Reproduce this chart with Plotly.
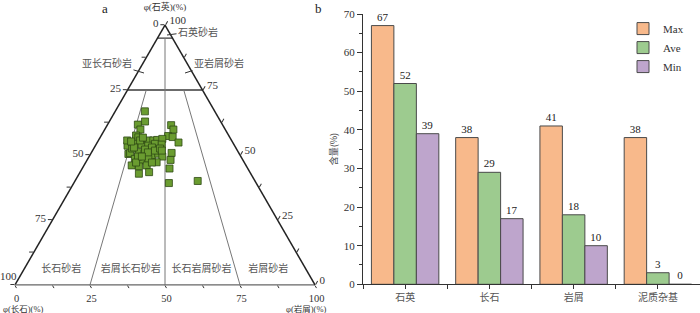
import plotly.graph_objects as go

# ---------------- Panel a: Q-F-R ternary data (%) ----------------
quartz = [66.8, 62.9, 61.7, 59.8, 61.5, 59.8, 57.3, 56.9, 54.8, 50.8, 48.1, 44.8, 39.2, 40.0,
          57.5, 56.8, 53.6, 50.4, 54.3, 54.0, 55.6, 55.6, 55.8, 56.2, 53.6, 54.3, 54.0, 50.7,
          51.1, 50.5, 49.8, 50.5, 49.4, 48.5, 47.9, 48.5, 47.2, 46.0, 45.6, 46.0, 42.8, 43.4,
          52.5, 52.1, 52.9, 55.6, 52.9, 51.7, 51.0, 49.4, 47.1, 52.5, 55.6, 56.7, 55.2, 51.7,
          47.1, 49.4]
feldspar = [23.3, 25.2, 28.2, 28.3, 17.2, 17.3, 20.3, 19.0, 18.1, 22.4, 24.1, 26.1, 29.1, 19.1,
            30.9, 30.5, 35.7, 37.0, 32.6, 30.8, 27.7, 26.1, 24.7, 22.8, 28.8, 26.2, 24.1, 36.3,
            33.3, 31.6, 29.5, 27.0, 26.2, 35.8, 33.8, 31.3, 29.2, 38.1, 35.9, 33.1, 37.3, 33.6,
            34.7, 30.6, 27.9, 30.5, 33.9, 27.5, 30.2, 34.3, 30.8, 25.4, 34.8, 29.0, 33.7, 25.2,
            36.1, 33.0]
lithic = [9.9, 11.9, 10.1, 11.9, 21.3, 22.9, 22.4, 24.1, 27.1, 26.8, 27.8, 29.1, 31.7, 40.9,
          11.6, 12.7, 10.7, 12.6, 13.1, 15.2, 16.7, 18.3, 19.5, 21.0, 17.6, 19.5, 21.9, 13.0,
          15.6, 17.9, 20.7, 22.5, 24.4, 15.7, 18.3, 20.2, 23.6, 15.9, 18.5, 20.9, 19.9, 23.0,
          12.8, 17.3, 19.2, 13.9, 13.2, 20.8, 18.8, 16.3, 22.1, 22.1, 9.6, 14.3, 11.1, 23.1,
          16.8, 17.6]

# classification boundaries
quartz_cuts = [95, 75]                    # horizontal Q lines
split_feldspar_share = [0.75, 0.5, 0.25]  # F/(F+R) of the fan lines
split_top_quartz = [75, 95, 75]           # Q where each fan line starts

ternary_ticks = [0, 12.5, 25, 37.5, 50, 62.5, 75, 87.5, 100]

bottom_zone_names = ["长石砂岩", "岩屑长石砂岩", "长石岩屑砂岩", "岩屑砂岩"]
upper_zone_names = ["石英砂岩", "亚长石砂岩", "亚岩屑砂岩"]

# ---------------- Panel b: bar data ----------------
components = ["石英", "长石", "岩屑", "泥质杂基"]
max_vals = [67, 38, 41, 38]
ave_vals = [52, 29, 18, 3]
min_vals = [39, 17, 10, 0]

SERIF = "Liberation Serif, Noto Sans CJK SC"
CJK = "Noto Sans CJK SC"
W, H = 700, 313

fig = go.Figure()

line_dark = dict(color="#3a3a3a", width=1.4)
line_gray = dict(color="#777777", width=1.0)

# horizontal boundary lines
for q in quartz_cuts:
    fig.add_trace(go.Scatterternary(
        a=[q, q], b=[100 - q, 0], c=[0, 100 - q], mode="lines",
        line=line_dark, showlegend=False, hoverinfo="skip", subplot="ternary"))
# fan lines
for share, qtop in zip(split_feldspar_share, split_top_quartz):
    rest = 100 - qtop
    fig.add_trace(go.Scatterternary(
        a=[qtop, 0], b=[rest * share, 100 * share], c=[rest * (1 - share), 100 * (1 - share)],
        mode="lines", line=line_gray, showlegend=False, hoverinfo="skip", subplot="ternary"))

# bottom zone labels
bottom_r = [12.4, 35.6, 59.2, 81.4]
fig.add_trace(go.Scatterternary(
    a=[6] * 4, b=[94 - r for r in bottom_r], c=bottom_r, mode="text", text=bottom_zone_names,
    textposition="middle center", textfont=dict(family=CJK, size=10, color="#555555"),
    showlegend=False, hoverinfo="skip", subplot="ternary"))

# samples
fig.add_trace(go.Scatterternary(
    a=quartz, b=feldspar, c=lithic, mode="markers",
    marker=dict(symbol="square", size=7, color="#6a9c30", line=dict(color="#2f4a14", width=0.8)),
    showlegend=False, subplot="ternary"))

# bars
bar_colors = ["#f8b98b", "#9dcb8f", "#bea5cc"]
x_idx = list(range(len(components)))
for name, vals, col in zip(["Max", "Ave", "Min"], [max_vals, ave_vals, min_vals], bar_colors):
    fig.add_trace(go.Bar(
        x=x_idx, y=vals, name=name, marker=dict(color=col, line=dict(color="#4a4a4a", width=1)),
        text=[str(v) for v in vals], textposition="outside", cliponaxis=False,
        textfont=dict(family=SERIF, size=11, color="#222222"),
        xaxis="x", yaxis="y"))


def tern_axis(title, blank_zero=False, ticklen=4):
    txt = []
    for v in ternary_ticks:
        if v % 25 == 0 and not (blank_zero and v == 0):
            txt.append(str(int(100 - v)))
        else:
            txt.append("")
    return dict(
        title=dict(text=title, font=dict(family=SERIF, size=9, color="#333333")),
        min=0, showgrid=False, showline=True, linecolor="#222222", linewidth=1.5,
        ticks="outside", ticklen=ticklen, tickcolor="#333333",
        tickmode="array", tickvals=ternary_ticks, ticktext=txt,
        tickfont=dict(family=SERIF, size=11, color="#333333"),
    )


ba = tern_axis("", ticklen=3)
ba["linecolor"] = "#666666"
ba["linewidth"] = 1.2
ba["tickfont"]["size"] = 10.5


def px(x, y):
    return x / W, 1 - y / H


annotations = []
# panel letters
for letter, (x0, y0) in zip(["a", "b"], [(105, 8), (318, 8)]):
    xx, yy = px(x0, y0)
    annotations.append(dict(text=letter, x=xx, y=yy, xref="paper", yref="paper", showarrow=False,
                            xanchor="center", yanchor="middle",
                            font=dict(family=SERIF, size=13, color="#222222")))
# corner axis titles and the corner "100" label
for txt, (x0, y0), size in [("φ(长石)(%)", (23, 308.5), 8.5), ("φ(岩屑)(%)", (306, 308.5), 8.5),
                            ("100", (8, 276), 11)]:
    xx, yy = px(x0, y0)
    annotations.append(dict(text=txt, x=xx, y=yy, xref="paper", yref="paper", showarrow=False,
                            xanchor="center", yanchor="middle",
                            font=dict(family=SERIF, size=size, color="#333333")))
# upper zone labels with leader lines (tip inside triangle, text offset in px)
for name, (tx, ty), (dx, dy) in zip(upper_zone_names,
                                    [(167, 35), (144, 73), (185, 73)],
                                    [(31, -4), (-37, -11), (34, -11)]):
    xx, yy = px(tx, ty)
    annotations.append(dict(text=name, x=xx, y=yy, xref="paper", yref="paper",
                            showarrow=True, arrowhead=0, arrowwidth=1, arrowcolor="#333333",
                            ax=dx, ay=dy, standoff=0, startstandoff=0,
                            font=dict(family=CJK, size=10, color="#555555")))

fig.update_layout(
    width=W, height=H, template="none",
    margin=dict(l=0, r=0, t=0, b=0),
    paper_bgcolor="white", plot_bgcolor="white",
    ternary=dict(
        domain=dict(x=[15 / W, 315 / W], y=[28 / H, 288 / H]),
        sum=100, bgcolor="white",
        aaxis=tern_axis("φ(石英)(%)", blank_zero=True),
        baxis=ba,
        caxis=tern_axis(""),
    ),
    xaxis=dict(
        domain=[363 / W, 1.0], range=[-0.5, 3.5], anchor="y",
        tickmode="array", tickvals=x_idx, ticktext=components,
        tickfont=dict(family=CJK, size=10, color="#555555"),
        ticks="outside", ticklen=4, tickcolor="#333333",
        minor=dict(tickmode="linear", tick0=0.5, dtick=1, ticks="outside", ticklen=4, tickcolor="#333333"),
        showline=True, linecolor="#333333", linewidth=1, showgrid=False, zeroline=False,
    ),
    yaxis=dict(
        domain=[(H - 284.3) / H, (H - 14) / H], range=[0, 70], anchor="x",
        dtick=10, ticks="outside", ticklen=5, tickcolor="#333333",
        minor=dict(dtick=5, ticks="outside", ticklen=3, tickcolor="#333333"),
        tickfont=dict(family=SERIF, size=11, color="#333333"),
        showline=True, linecolor="#333333", linewidth=1, showgrid=False, zeroline=False,
        title=dict(text="含量(%)", font=dict(family=CJK, size=9, color="#444444"), standoff=4),
    ),
    barmode="group", bargap=0.2, bargroupgap=0,
    legend=dict(x=623 / W, y=0.955, xanchor="left", yanchor="top", tracegroupgap=0,
                font=dict(family=SERIF, size=11, color="#333333"), bgcolor="rgba(0,0,0,0)"),
    annotations=annotations,
)

fig.write_html("out.html", config={"displayModeBar": False},
               post_script="document.body.style.margin='0px';document.body.style.overflow='hidden';")
